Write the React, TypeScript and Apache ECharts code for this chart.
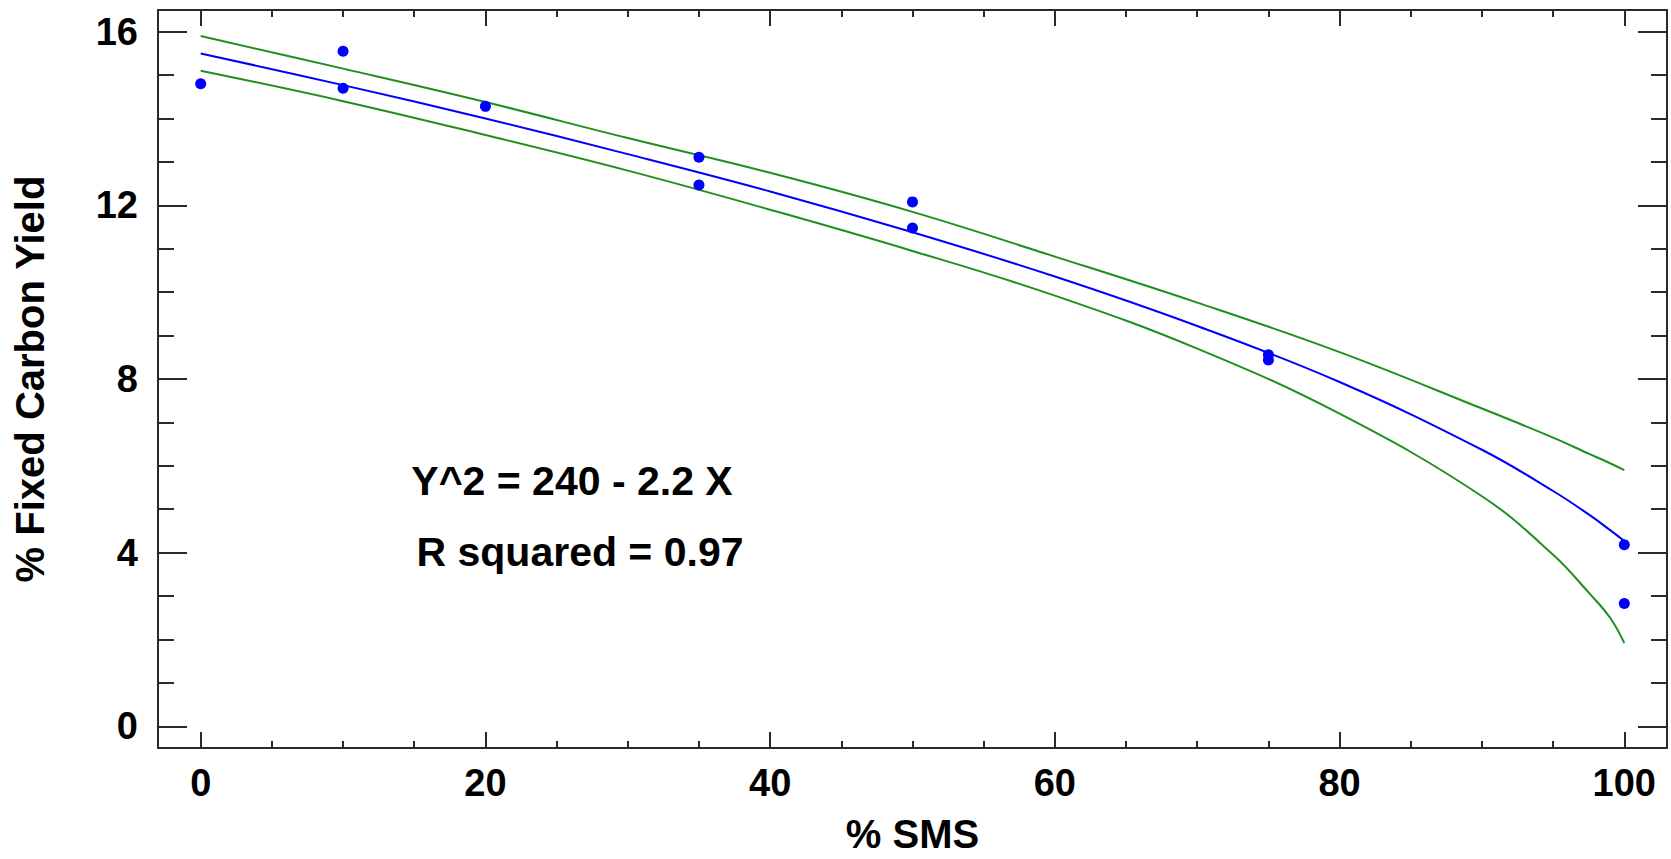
import React, { useEffect, useRef } from "react";
import * as echarts from "echarts";

// Observed points
const obsX = [0, 10, 10, 20, 35, 35, 50, 50, 75, 75, 100, 100];
const obsY = [14.8, 15.55, 14.7, 14.28, 13.11, 12.47, 12.08, 11.48, 8.56, 8.44, 4.18, 2.83];

// Fitted curve and confidence limits
const curveX = [0, 10, 20, 30, 40, 50, 60, 70, 80, 90, 95, 97.5, 99, 100];
const fitY = [15.5, 14.77, 14.0, 13.18, 12.32, 11.38, 10.36, 9.22, 7.93, 6.37, 5.42, 4.88, 4.52, 4.27];
const upperY = [15.9, 15.15, 14.38, 13.55, 12.75, 11.85, 10.82, 9.76, 8.62, 7.32, 6.65, 6.28, 6.06, 5.9];
const lowerY = [15.1, 14.4, 13.62, 12.8, 11.9, 10.95, 9.92, 8.7, 7.2, 5.3, 3.95, 3.08, 2.5, 1.92];

// Ticks
const xMajor = [0, 20, 40, 60, 80, 100];
const xMinor = [5, 10, 15, 25, 30, 35, 45, 50, 55, 65, 70, 75, 85, 90, 95];
const yMajor = [0, 4, 8, 12, 16];
const yMinor = [1, 2, 3, 5, 6, 7, 9, 10, 11, 13, 14, 15];

const xTitle = "% SMS";
const yTitle = "% Fixed Carbon Yield";
const equationText = "Y^2 = 240 - 2.2 X";
const r2Text = "R squared = 0.97";

const FONT = '"Liberation Sans", Arial, sans-serif';
const AXIS_COLOR = "#2a2a2a";
const GREEN = "#1f8f1f";
const BLUE = "#0000ff";

function pairs(xs: number[], ys: number[]) {
  return xs.map((x, i) => [x, ys[i]]);
}

function xAxisDef(position: "bottom" | "top", major: boolean, withLabels: boolean) {
  return {
    type: "value",
    min: -3,
    max: 103,
    position,
    axisLine: { show: major, onZero: false, lineStyle: { color: AXIS_COLOR, width: 2 } },
    axisTick: {
      show: true,
      inside: true,
      length: major ? 16 : 7,
      customValues: major ? xMajor : xMinor,
      lineStyle: { color: AXIS_COLOR, width: 2 },
    },
    axisLabel: withLabels
      ? {
          show: true,
          customValues: xMajor,
          margin: 16,
          color: "#000",
          fontSize: 38,
          fontWeight: "bold",
          fontFamily: FONT,
        }
      : { show: false },
    splitLine: { show: false },
    ...(withLabels
      ? {
          name: xTitle,
          nameLocation: "middle",
          nameGap: 66,
          nameTextStyle: { color: "#000", fontSize: 40, fontWeight: "bold", fontFamily: FONT },
        }
      : {}),
  };
}

function yAxisDef(position: "left" | "right", major: boolean, withLabels: boolean) {
  return {
    type: "value",
    min: -0.5,
    max: 16.5,
    position,
    axisLine: { show: major, onZero: false, lineStyle: { color: AXIS_COLOR, width: 2 } },
    axisTick: {
      show: true,
      inside: true,
      length: major ? 29 : 16,
      customValues: major ? yMajor : yMinor,
      lineStyle: { color: AXIS_COLOR, width: 2 },
    },
    axisLabel: withLabels
      ? {
          show: true,
          customValues: yMajor,
          margin: 20,
          color: "#000",
          fontSize: 38,
          fontWeight: "bold",
          fontFamily: FONT,
        }
      : { show: false },
    splitLine: { show: false },
    ...(withLabels
      ? {
          name: yTitle,
          nameLocation: "middle",
          nameRotate: 90,
          nameGap: 108,
          nameTextStyle: { color: "#000", fontSize: 40, fontWeight: "bold", fontFamily: FONT },
        }
      : {}),
  };
}

function curveSeries(ys: number[], color: string, z: number) {
  return {
    type: "line",
    data: pairs(curveX, ys),
    smooth: 0.4,
    showSymbol: false,
    symbol: "none",
    lineStyle: { color, width: 2 },
    z,
  };
}

export default function App() {
  const ref = useRef<HTMLDivElement>(null);
  useEffect(() => {
    if (!ref.current) return;
    const chart = echarts.init(ref.current, null, { renderer: "svg" });
    const option: any = {
      animation: false,
      backgroundColor: "#ffffff",
      grid: { left: 158, right: 4, top: 10, bottom: 110, containLabel: false },
      xAxis: [
        xAxisDef("bottom", true, true),
        xAxisDef("bottom", false, false),
        xAxisDef("top", true, false),
        xAxisDef("top", false, false),
      ],
      yAxis: [
        yAxisDef("left", true, true),
        yAxisDef("left", false, false),
        yAxisDef("right", true, false),
        yAxisDef("right", false, false),
      ],
      series: [
        curveSeries(upperY, GREEN, 2),
        curveSeries(lowerY, GREEN, 2),
        curveSeries(fitY, BLUE, 3),
        {
          type: "scatter",
          data: pairs(obsX, obsY),
          symbol: "circle",
          symbolSize: 11,
          itemStyle: { color: BLUE, opacity: 1 },
          z: 4,
        },
      ],
      graphic: [
        {
          type: "text",
          x: 572,
          y: 481,
          style: {
            text: equationText,
            fill: "#000",
            fontSize: 41,
            fontWeight: "bold",
            fontFamily: FONT,
            textAlign: "center",
            textVerticalAlign: "middle",
          },
        },
        {
          type: "text",
          x: 580,
          y: 552,
          style: {
            text: r2Text,
            fill: "#000",
            fontSize: 41,
            fontWeight: "bold",
            fontFamily: FONT,
            textAlign: "center",
            textVerticalAlign: "middle",
          },
        },
      ],
    };
    chart.setOption(option);
    return () => chart.dispose();
  }, []);
  return (
    <div
      ref={ref}
      style={{ position: "fixed", left: 0, top: 0, width: 1671, height: 859, background: "#fff" }}
    />
  );
}
